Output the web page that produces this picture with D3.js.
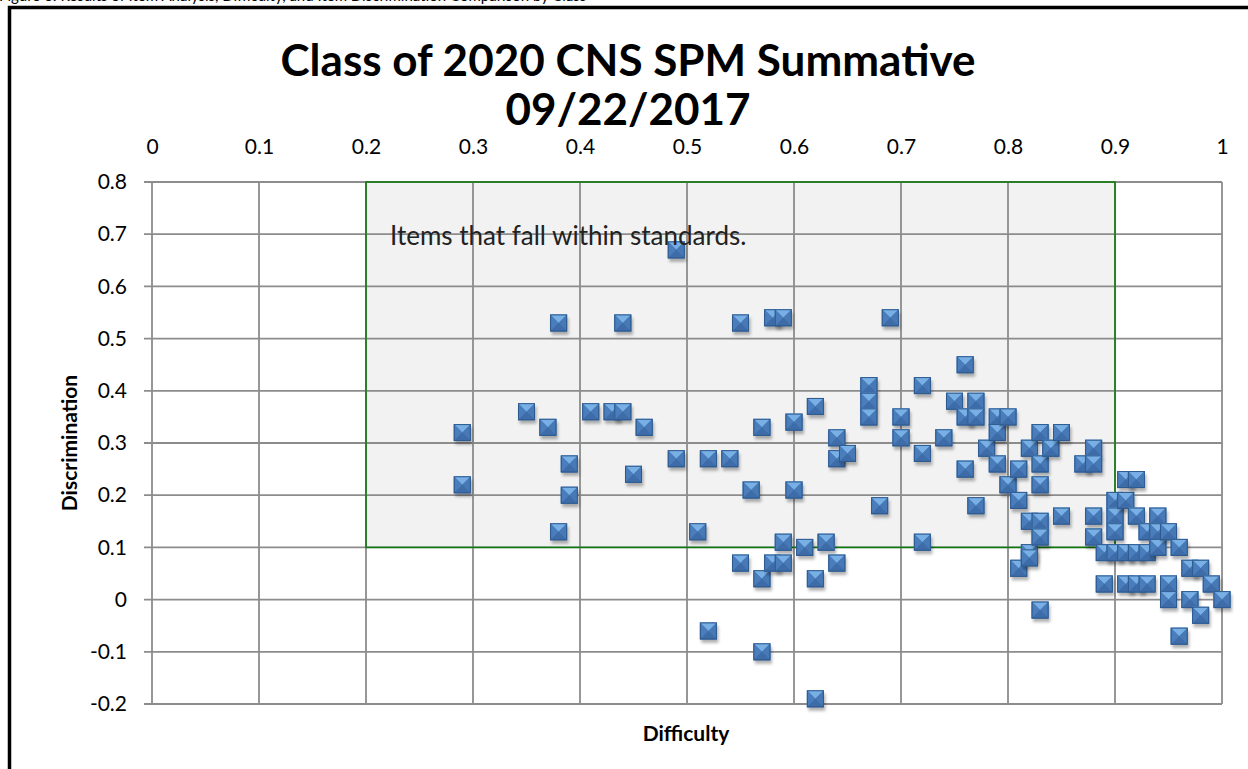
<!DOCTYPE html>
<html>
<head>
<meta charset="utf-8">
<script src="https://cdn.jsdelivr.net/npm/d3@7"></script>
<style>
  body { margin: 0; background: #fff; }
  svg { display: block; font-family: Lato, "Open Sans", sans-serif; }
</style>
</head>
<body>
<svg id="chart" width="1248" height="769"></svg>
<script>
// Item difficulty (x) and discrimination (y)
const difficulty = [
  0.29, 0.29, 0.35, 0.37, 0.38, 0.38, 0.39, 0.39, 0.41, 0.43, 0.44, 0.44, 0.45, 0.46,
  0.49, 0.49, 0.51, 0.52, 0.52, 0.54, 0.55, 0.55, 0.56, 0.57, 0.57, 0.57, 0.58, 0.58,
  0.59, 0.59, 0.59, 0.60, 0.60, 0.61, 0.62, 0.62, 0.62, 0.63, 0.64, 0.64, 0.64, 0.65,
  0.67, 0.67, 0.67, 0.68, 0.69, 0.70, 0.70, 0.72, 0.72, 0.72, 0.74, 0.75, 0.76, 0.76,
  0.76, 0.77, 0.77, 0.77, 0.78, 0.79, 0.79, 0.79, 0.80, 0.80, 0.81, 0.81, 0.81, 0.82,
  0.82, 0.82, 0.82, 0.83, 0.83, 0.83, 0.83, 0.83, 0.83, 0.84, 0.85, 0.85, 0.87, 0.88,
  0.88, 0.88, 0.88, 0.89, 0.89, 0.90, 0.90, 0.90, 0.90, 0.91, 0.91, 0.91, 0.91, 0.92,
  0.92, 0.92, 0.92, 0.93, 0.93, 0.93, 0.94, 0.94, 0.94, 0.95, 0.95, 0.95, 0.96, 0.96,
  0.97, 0.97, 0.98, 0.98, 0.99, 1.00
];
const discrimination = [
  0.32, 0.22, 0.36, 0.33, 0.53, 0.13, 0.26, 0.20, 0.36, 0.36, 0.53, 0.36, 0.24, 0.33,
  0.67, 0.27, 0.13, 0.27, -0.06, 0.27, 0.53, 0.07, 0.21, 0.33, 0.04, -0.10, 0.54, 0.07,
  0.54, 0.11, 0.07, 0.34, 0.21, 0.10, 0.37, 0.04, -0.19, 0.11, 0.31, 0.27, 0.07, 0.28,
  0.41, 0.38, 0.35, 0.18, 0.54, 0.35, 0.31, 0.41, 0.28, 0.11, 0.31, 0.38, 0.45, 0.35,
  0.25, 0.38, 0.35, 0.18, 0.29, 0.35, 0.32, 0.26, 0.35, 0.22, 0.25, 0.19, 0.06, 0.29,
  0.15, 0.09, 0.08, 0.32, 0.26, 0.22, 0.15, 0.12, -0.02, 0.29, 0.32, 0.16, 0.26, 0.29,
  0.26, 0.16, 0.12, 0.09, 0.03, 0.19, 0.16, 0.13, 0.09, 0.23, 0.19, 0.09, 0.03, 0.23,
  0.16, 0.09, 0.03, 0.13, 0.09, 0.03, 0.16, 0.13, 0.10, 0.13, 0.03, 0.00, 0.10, -0.07,
  0.06, 0.00, 0.06, -0.03, 0.03, 0.00
];

const xTicks = [0, 0.1, 0.2, 0.3, 0.4, 0.5, 0.6, 0.7, 0.8, 0.9, 1];
const xTickLabels = ["0", "0.1", "0.2", "0.3", "0.4", "0.5", "0.6", "0.7", "0.8", "0.9", "1"];
const yTicks = [-0.2, -0.1, 0, 0.1, 0.2, 0.3, 0.4, 0.5, 0.6, 0.7, 0.8];
const yTickLabels = ["-0.2", "-0.1", "0", "0.1", "0.2", "0.3", "0.4", "0.5", "0.6", "0.7", "0.8"];

// the "within standards" band
const standardDifficulty = [0.2, 0.9];
const standardDiscrimination = [0.1, 0.8];

const svg = d3.select("#chart");

const x = d3.scaleLinear().domain([0, 1]).range([152, 1222]);
const y = d3.scaleLinear().domain([-0.2, 0.8]).range([704, 182]);

// marker: excel style bevelled square
const defs = svg.append("defs");
const blur = defs.append("filter").attr("id", "shadow")
  .attr("x", "-50%").attr("y", "-50%").attr("width", "200%").attr("height", "200%");
blur.append("feGaussianBlur").attr("stdDeviation", 1.6);

const mk = defs.append("g").attr("id", "mk");
mk.append("rect").attr("x", -7).attr("y", -5).attr("width", 17).attr("height", 17)
  .attr("fill", "rgba(0,0,0,0.3)").attr("filter", "url(#shadow)");
mk.append("rect").attr("x", -8.5).attr("y", -8.5).attr("width", 17).attr("height", 17)
  .attr("fill", "#4877b3");
mk.append("polygon").attr("points", "-8.5,-8.5 8.5,-8.5 0,0").attr("fill", "#78b0e6");
mk.append("polygon").attr("points", "-8.5,-8.5 0,0 -8.5,8.5").attr("fill", "#4a7dbc");
mk.append("polygon").attr("points", "8.5,-8.5 0,0 8.5,8.5").attr("fill", "#4779b6");
mk.append("polygon").attr("points", "-8.5,8.5 0,0 8.5,8.5").attr("fill", "#3e6ca8");
mk.append("rect").attr("x", -8).attr("y", -8).attr("width", 16).attr("height", 16)
  .attr("fill", "none").attr("stroke", "#2d5a8e").attr("stroke-width", 1);

// caption above the frame, mostly cut off by the page edge
svg.append("text").attr("x", -1).attr("y", 1).attr("font-size", 15)
  .text("Figure 3: Results of Item Analysis, Difficulty, and Item Discrimination Comparison by Class");
// outer frame
svg.append("rect").attr("x", 9.5).attr("y", 7.5).attr("width", 1260).attr("height", 800)
  .attr("fill", "#fff").attr("stroke", "#000").attr("stroke-width", 3.5);

// standards box
svg.append("rect")
  .attr("x", x(standardDifficulty[0]))
  .attr("y", y(standardDiscrimination[1]))
  .attr("width", x(standardDifficulty[1]) - x(standardDifficulty[0]))
  .attr("height", y(standardDiscrimination[0]) - y(standardDiscrimination[1]))
  .attr("fill", "#f2f2f2");

// gridlines
const grid = svg.append("g").attr("stroke", "#8c8c8c").attr("stroke-width", 1.8);
grid.selectAll(".gx").data(xTicks).join("line")
  .attr("x1", (d) => x(d)).attr("x2", (d) => x(d))
  .attr("y1", y(0.8)).attr("y2", y(-0.2));
grid.selectAll(".gy").data(yTicks).join("line")
  .attr("x1", x(0) - 8).attr("x2", x(1))
  .attr("y1", (d) => y(d)).attr("y2", (d) => y(d));

svg.append("rect")
  .attr("x", x(standardDifficulty[0]))
  .attr("y", y(standardDiscrimination[1]))
  .attr("width", x(standardDifficulty[1]) - x(standardDifficulty[0]))
  .attr("height", y(standardDiscrimination[0]) - y(standardDiscrimination[1]))
  .attr("fill", "none").attr("stroke", "#0a7a0a").attr("stroke-width", 1.5);

// axes labels
const xAxis = svg.append("g").attr("transform", `translate(0,${y(0.8)})`)
  .call(d3.axisTop(x).tickValues(xTicks).tickSize(0).tickPadding(28)
    .tickFormat((d, i) => xTickLabels[i]));
const yAxis = svg.append("g").attr("transform", `translate(${x(0)},0)`)
  .call(d3.axisLeft(y).tickValues(yTicks).tickSize(0).tickPadding(25)
    .tickFormat((d, i) => yTickLabels[i]));
[xAxis, yAxis].forEach((a) => {
  a.select(".domain").remove();
  a.selectAll("text").attr("font-family", "Lato, 'Open Sans', sans-serif")
    .attr("font-size", 21).attr("fill", "#000");
});

// points
const pts = difficulty.map((d, i) => ({ d, r: discrimination[i] }));
svg.append("g").selectAll("use").data(pts).join("use")
  .attr("href", "#mk")
  .attr("x", (p) => x(p.d))
  .attr("y", (p) => y(p.r));

// text box sits above the markers
svg.append("text").attr("x", 390).attr("y", 245).attr("font-size", 26).attr("fill", "#222")
  .text("Items that fall within standards.");

// titles
const title = svg.append("text").attr("text-anchor", "middle")
  .attr("font-size", 44).attr("font-weight", "bold").attr("fill", "#000");
title.append("tspan").attr("x", 628).attr("y", 76).text("Class of 2020 CNS SPM Summative");
title.append("tspan").attr("x", 628).attr("y", 125).text("09/22/2017");

svg.append("text").attr("x", 686).attr("y", 741).attr("text-anchor", "middle")
  .attr("font-size", 21).attr("font-weight", "bold").text("Difficulty");
svg.append("text").attr("transform", "translate(77,443) rotate(-90)")
  .attr("text-anchor", "middle").attr("font-size", 21).attr("font-weight", "bold")
  .text("Discrimination");
</script>
</body>
</html>
